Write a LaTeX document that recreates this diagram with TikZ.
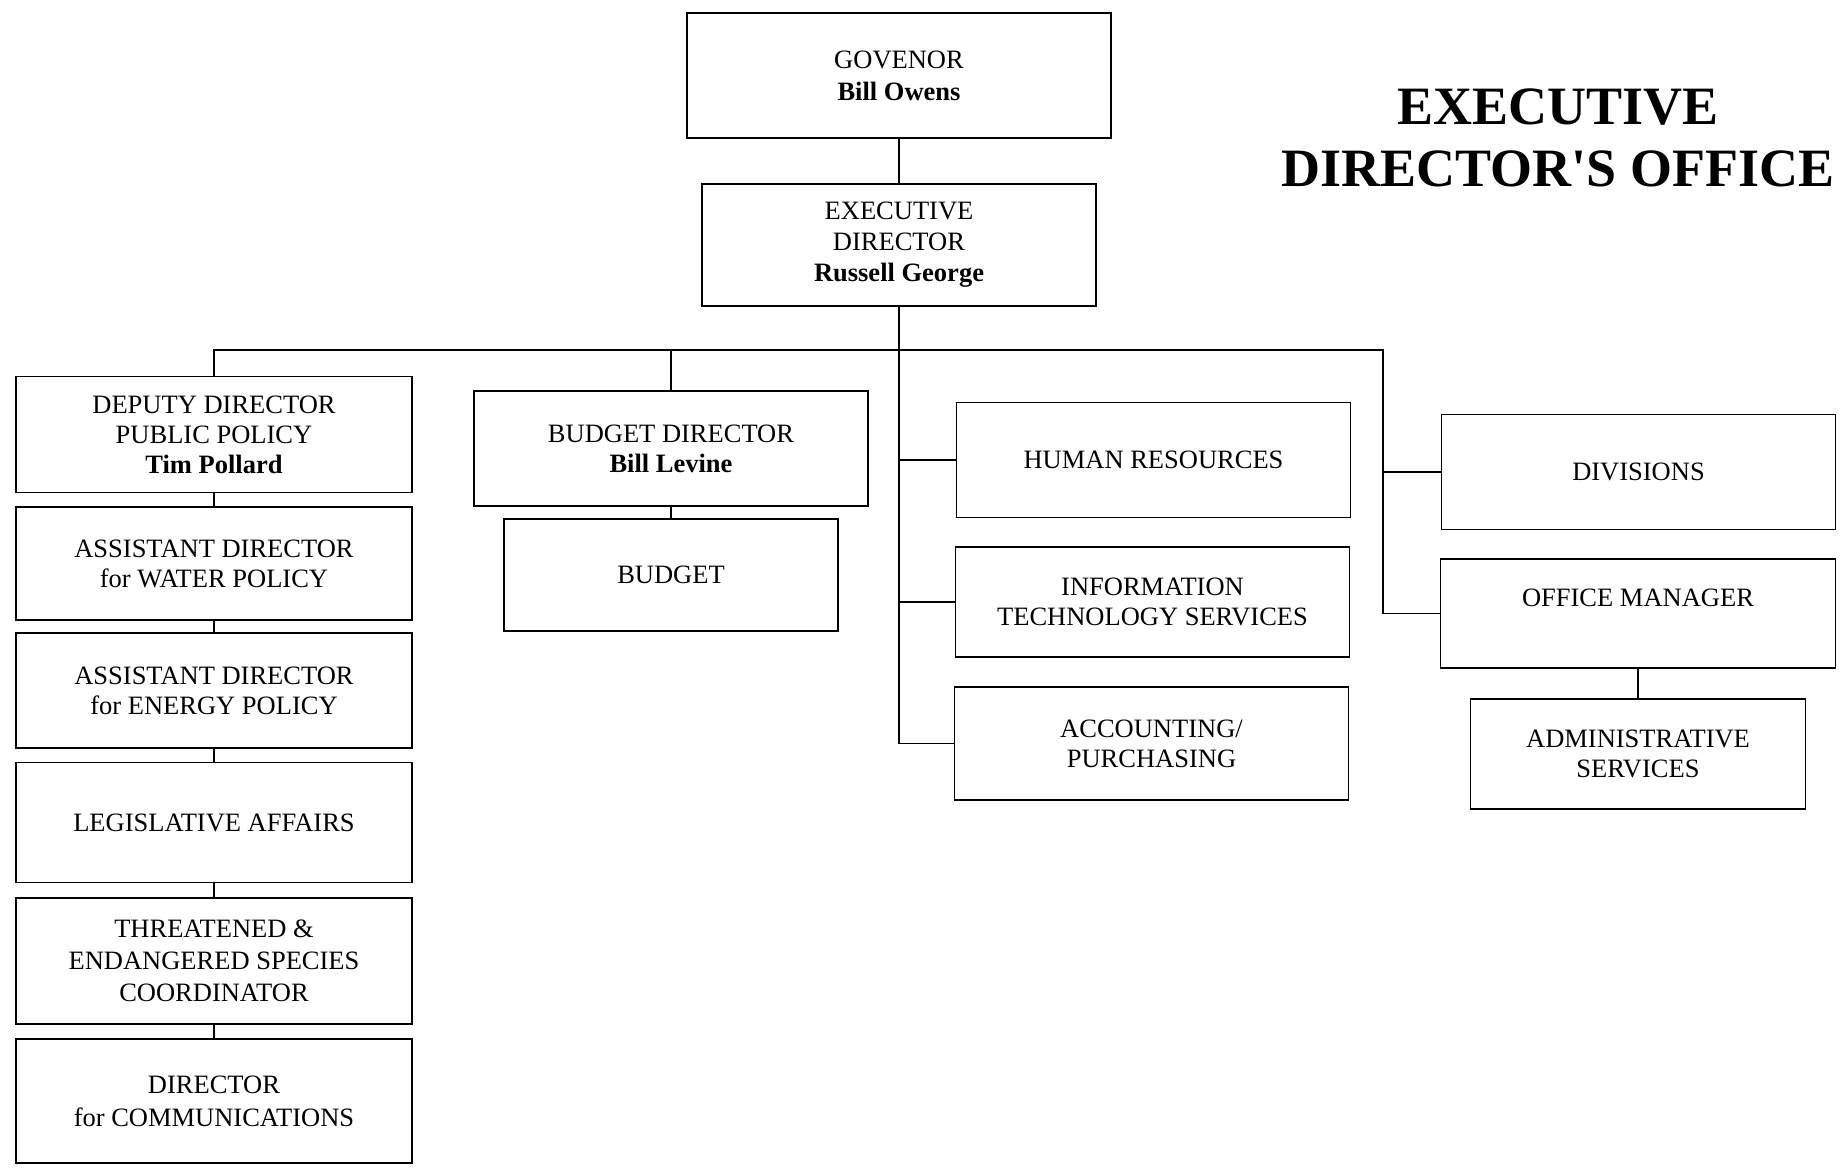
\documentclass[tikz,border=0pt]{standalone}
\usepackage{fontspec}
\setmainfont{Liberation Serif}
\newfontfamily\titlefont{Liberation Serif}
\begin{document}
\begin{tikzpicture}[x=1pt,y=-1pt,
  box/.style={draw=black, line width=1.7pt, fill=white, align=center, inner sep=0pt,
    font=\fontsize{26.5}{30}\selectfont},
  txt/.style={align=center, inner sep=0pt, font=\fontsize{26.5}{30}\selectfont},
  conn/.style={draw=black, line width=1.4pt},
  titletext/.style={align=center, inner sep=0pt, font=\titlefont\bfseries\fontsize{54}{62}\selectfont}]
\useasboundingbox (0,0) rectangle (1845,1170);
% top
\node[box, minimum width=424pt, minimum height=125pt, font=\fontsize{26.5}{32}\selectfont] (gov) at (899,75.5) {GOVENOR\\\textbf{Bill Owens}};
\node[box, minimum width=394pt, minimum height=122pt, font=\fontsize{26.5}{31}\selectfont] (ed) at (899,245) {EXECUTIVE\\DIRECTOR\\\textbf{Russell George}};
\node[titletext] (title) at (1558,138) {EXECUTIVE\\DIRECTOR'S OFFICE};
% left column
\node[box, minimum width=396pt, minimum height=116pt] (dep) at (214,434.5) {DEPUTY DIRECTOR\\PUBLIC POLICY\\\textbf{Tim Pollard}};
\node[box, minimum width=396pt, minimum height=113pt] (wat) at (214,563.5) {ASSISTANT DIRECTOR\\for WATER POLICY};
\node[box, minimum width=396pt, minimum height=115pt] (ene) at (214,690.5) {ASSISTANT DIRECTOR\\for ENERGY POLICY};
\node[box, minimum width=396pt, minimum height=120pt] (leg) at (214,822.5) {LEGISLATIVE AFFAIRS};
\node[box, minimum width=396pt, minimum height=126pt, font=\fontsize{26.5}{32}\selectfont] (thr) at (214,961) {THREATENED \&\\ENDANGERED SPECIES\\COORDINATOR};
\node[box, minimum width=396pt, minimum height=124pt, font=\fontsize{26.5}{33}\selectfont] (com) at (214,1101) {DIRECTOR\\for COMMUNICATIONS};
% budget column
\node[box, minimum width=394pt, minimum height=115pt] (bd) at (671,448.5) {BUDGET DIRECTOR\\\textbf{Bill Levine}};
\node[box, minimum width=334pt, minimum height=112pt] (bud) at (671,575) {BUDGET};
% middle column
\node[box, minimum width=394pt, minimum height=115pt] (hr) at (1153.5,460) {HUMAN RESOURCES};
\node[box, minimum width=394pt, minimum height=110pt] (its) at (1152.5,601.8) {INFORMATION\\TECHNOLOGY SERVICES};
\node[box, minimum width=394pt, minimum height=113pt] (acc) at (1151.5,743.5) {ACCOUNTING/\\PURCHASING};
% right column
\node[box, minimum width=394pt, minimum height=115pt] (div) at (1638.5,472) {DIVISIONS};
\node[box, minimum width=395pt, minimum height=109pt] (om) at (1638,613.5) {};
\node[txt] (omt) at (1638,598) {OFFICE MANAGER};
\node[box, minimum width=335pt, minimum height=110pt] (adm) at (1638,754) {ADMINISTRATIVE\\SERVICES};
% bus
\coordinate (busL) at (214,350);
\coordinate (busR) at (1383,350);
% connectors
\draw[conn] (gov.south) -- (ed.north);
\draw[conn] (dep.north) |- (busR) |- (om.west);
\draw[conn] (busR |- div.west) -- (div.west);
\draw[conn] (bd.north) -- (bd.north |- busL);
\draw[conn] (bd.south) -- (bud.north);
\draw[conn] (ed.south) |- (acc.west);
\draw[conn] (ed.south |- hr.west) -- (hr.west);
\draw[conn] (ed.south |- its.west) -- (its.west);
\draw[conn] (om.south) -- (adm.north);
\draw[conn] (dep.south) -- (wat.north);
\draw[conn] (wat.south) -- (ene.north);
\draw[conn] (ene.south) -- (leg.north);
\draw[conn] (leg.south) -- (thr.north);
\draw[conn] (thr.south) -- (com.north);
\end{tikzpicture}
\end{document}
